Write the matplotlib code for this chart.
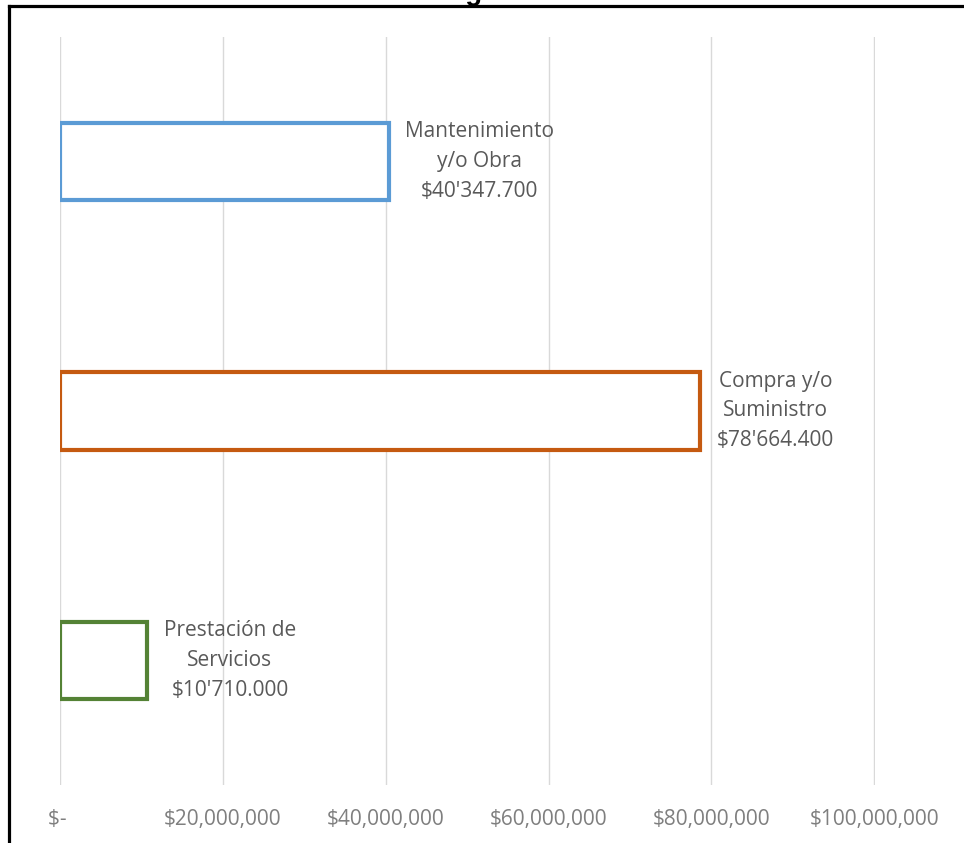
import matplotlib.pyplot as plt
from matplotlib.lines import Line2D

# data (pesos)
categorias = ['Prestación de\nServicios', 'Compra y/o\nSuministro', 'Mantenimiento\ny/o Obra']
valores = [10710000, 78664400, 40347700]
colores = ['#548235', '#C55A11', '#5B9BD5']
ticks = [0, 20000000, 40000000, 60000000, 80000000, 100000000]
tick_labels = ['$- ', '$20,000,000', '$40,000,000', '$60,000,000', '$80,000,000', '$100,000,000']
titulo = 'Contratos Auditados Según Selección de la Muestra'


def formato(v):
    # 40347700 -> $40'347.700
    millones = v // 1000000
    resto = v % 1000000
    return "$%d'%03d.%03d" % (millones, resto // 1000, resto % 1000)


def main():
    plt.rcParams['font.family'] = ['Open Sans', 'DejaVu Sans']
    fig = plt.figure(figsize=(9.64, 8.43), dpi=100)
    ax = fig.add_axes([60/964, 1 - 785/843, 815/964, 748/843])

    y = list(range(len(categorias)))
    ax.barh(y, valores, height=0.31, color='white', edgecolor=colores, linewidth=3)

    for yi, v, c in zip(y, valores, categorias):
        ax.annotate(c + '\n' + formato(v), xy=(v, yi), xytext=(12, 0),
                    textcoords='offset points', ha='left', va='center',
                    multialignment='center', fontsize=15, color='#595959',
                    linespacing=1.55)

    ax.set_xlim(0, 100100000)
    ax.set_ylim(-0.5, 2.5)
    ax.set_xticks(ticks)
    ax.set_xticklabels(tick_labels, fontsize=15, color='#7f7f7f')
    ax.set_yticks([])
    ax.tick_params(axis='x', length=0, pad=17)
    ax.grid(axis='x', color='#d9d9d9', linewidth=1)
    ax.set_axisbelow(True)
    for s in ax.spines.values():
        s.set_visible(False)

    # title, mostly cut off at the top like in the source image
    fig.text(494/964, 1 + 0.5/843, titulo, ha='center', va='baseline',
             fontsize=20, fontweight='bold', family='Liberation Sans')

    # black frame (top and left only visible)
    fig.add_artist(Line2D([9/964, 1.0], [1 - 6/843, 1 - 6/843], color='black',
                          linewidth=2.3, transform=fig.transFigure))
    fig.add_artist(Line2D([9/964, 9/964], [0, 1 - 6/843], color='black',
                          linewidth=2.3, transform=fig.transFigure))

    fig.savefig('out.png', dpi=100)


if __name__ == '__main__':
    main()
